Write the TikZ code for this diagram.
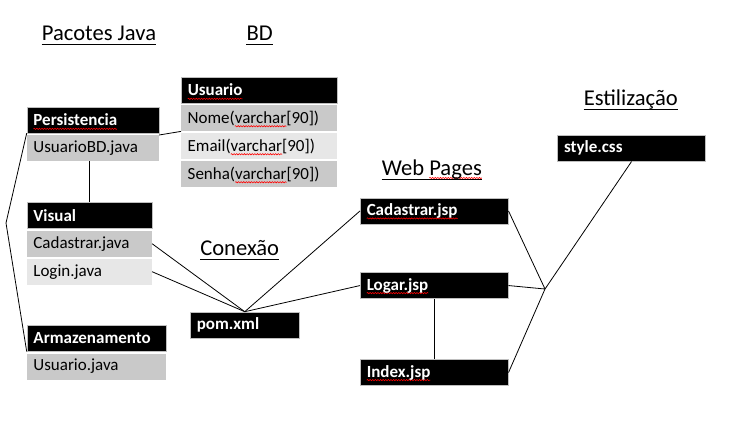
\documentclass[tikz,border=0pt]{standalone}
\usepackage{fontspec}
\setmainfont{Carlito}
\usetikzlibrary{positioning, decorations.pathmorphing}

\definecolor{rowdark}{HTML}{C9C9C9}
\definecolor{rowlight}{HTML}{E7E7E7}

% red wavy spell-check mark
\newlength\spw
\newcommand\spell[1]{\settowidth\spw{#1}%
  \tikz[baseline=0pt]{\useasboundingbox (0pt,0pt);
    \draw[overlay, red, line width=0.6pt, decorate,
      decoration={snake, amplitude=0.6pt, segment length=2.6pt}]
      (0pt,-3pt) -- (\spw,-3pt);}#1}

\newcommand\boxfont{\fontsize{17}{20}\selectfont}

\tikzset{
  hdr/.style={fill=black, draw=black!25, line width=0.5pt, text=white,
    font=\boxfont\bfseries, anchor=north west, inner xsep=6.5pt, inner ysep=0pt,
    text width=#1, minimum height=26pt, align=left},
  row/.style={fill=rowdark, text=black, font=\boxfont, anchor=north west,
    inner xsep=6.5pt, inner ysep=0pt, text width=#1, minimum height=26pt,
    align=left},
  title/.style={font=\fontsize{22.6}{26}\selectfont, anchor=base, inner sep=0pt},
  uline/.style={line width=1.5pt},
  link/.style={line width=0.8pt}
}

\begin{document}
\begin{tikzpicture}[x=1pt, y=-1pt]
\useasboundingbox (0,0) rectangle (747,440);

%% titles
\node[title] (tpj) at (99, 40) {Pacotes Java};
\node[title] (tbd) at (259.7, 40) {BD};
\node[title] (tcx) at (239.7, 255) {Conexão};
\node[title] (twp) at (431.8, 175) {Web \spell{Pages}};
\node[title] (tes) at (630.8, 105) {Estilização};
\foreach \t in {tpj, tbd, tcx, twp, tes}
  \draw[uline] ([yshift=-4.5pt]\t.base west) -- ([yshift=-4.5pt]\t.base east);

%% BD
\node[hdr=143pt] (usr) at (181, 76.7) {\spell{Usuario}};
\node[row=143pt] (nome) at (181, 105) {Nome(\spell{varchar}[90])};
\node[row=143pt, fill=rowlight] (email) at (181, 133) {Email(\spell{varchar}[90])};
\node[row=143pt] (senha) at (181, 161) {Senha(\spell{varchar}[90])};

%% pacotes java
\node[hdr=119pt] (pers) at (26.7, 106.7) {\spell{Persistencia}};
\node[row=119pt] (ubd) at (26.7, 135) {UsuarioBD.java};

\node[hdr=112pt] (vis) at (26.7, 202.3) {Visual};
\node[row=112pt] (cadj) at (26.7, 230.5) {Cadastrar.java};
\node[row=112pt, fill=rowlight] (logj) at (26.7, 258.5) {Login.java};

\node[hdr=126pt] (arm) at (26.7, 325) {Armazenamento};
\node[row=126pt] (usj) at (26.7, 353.3) {Usuario.java};

%% conexao
\node[hdr=96pt] (pom) at (190, 311.7) {pom.xml};

%% web pages
\node[hdr=135pt] (cjsp) at (360, 197.7) {\spell{Cadastrar.jsp}};
\node[hdr=135pt] (ljsp) at (360, 272.3) {\spell{Logar.jsp}};
\node[hdr=135pt] (ijsp) at (360, 359.3) {\spell{Index.jsp}};

%% estilizacao
\node[hdr=135pt] (css) at (557.3, 135) {style.css};

%% links
\coordinate (brk) at (6, 223);
\coordinate (jn) at (545, 289);

\draw[link] (ubd.north east) -- (nome.south west);
\draw[link] (vis.north |- ubd.south) -- (vis.north);
\draw[link] (pers.south west) -- (brk) -- (arm.south west);

\draw[link] (cadj.east) -- (pom.north);
\draw[link] (logj.east) -- (pom.north);
\draw[link] (pom.north) -- (cjsp.west);
\draw[link] (pom.north) -- (ljsp.west);

\draw[link] (ljsp.south) -- (ijsp.north);
\draw[link] (cjsp.east) -- (jn);
\draw[link] (ljsp.east) -- (jn);
\draw[link] (ijsp.east) -- (jn);
\draw[link] (jn) -- (css.south);

\end{tikzpicture}
\end{document}
